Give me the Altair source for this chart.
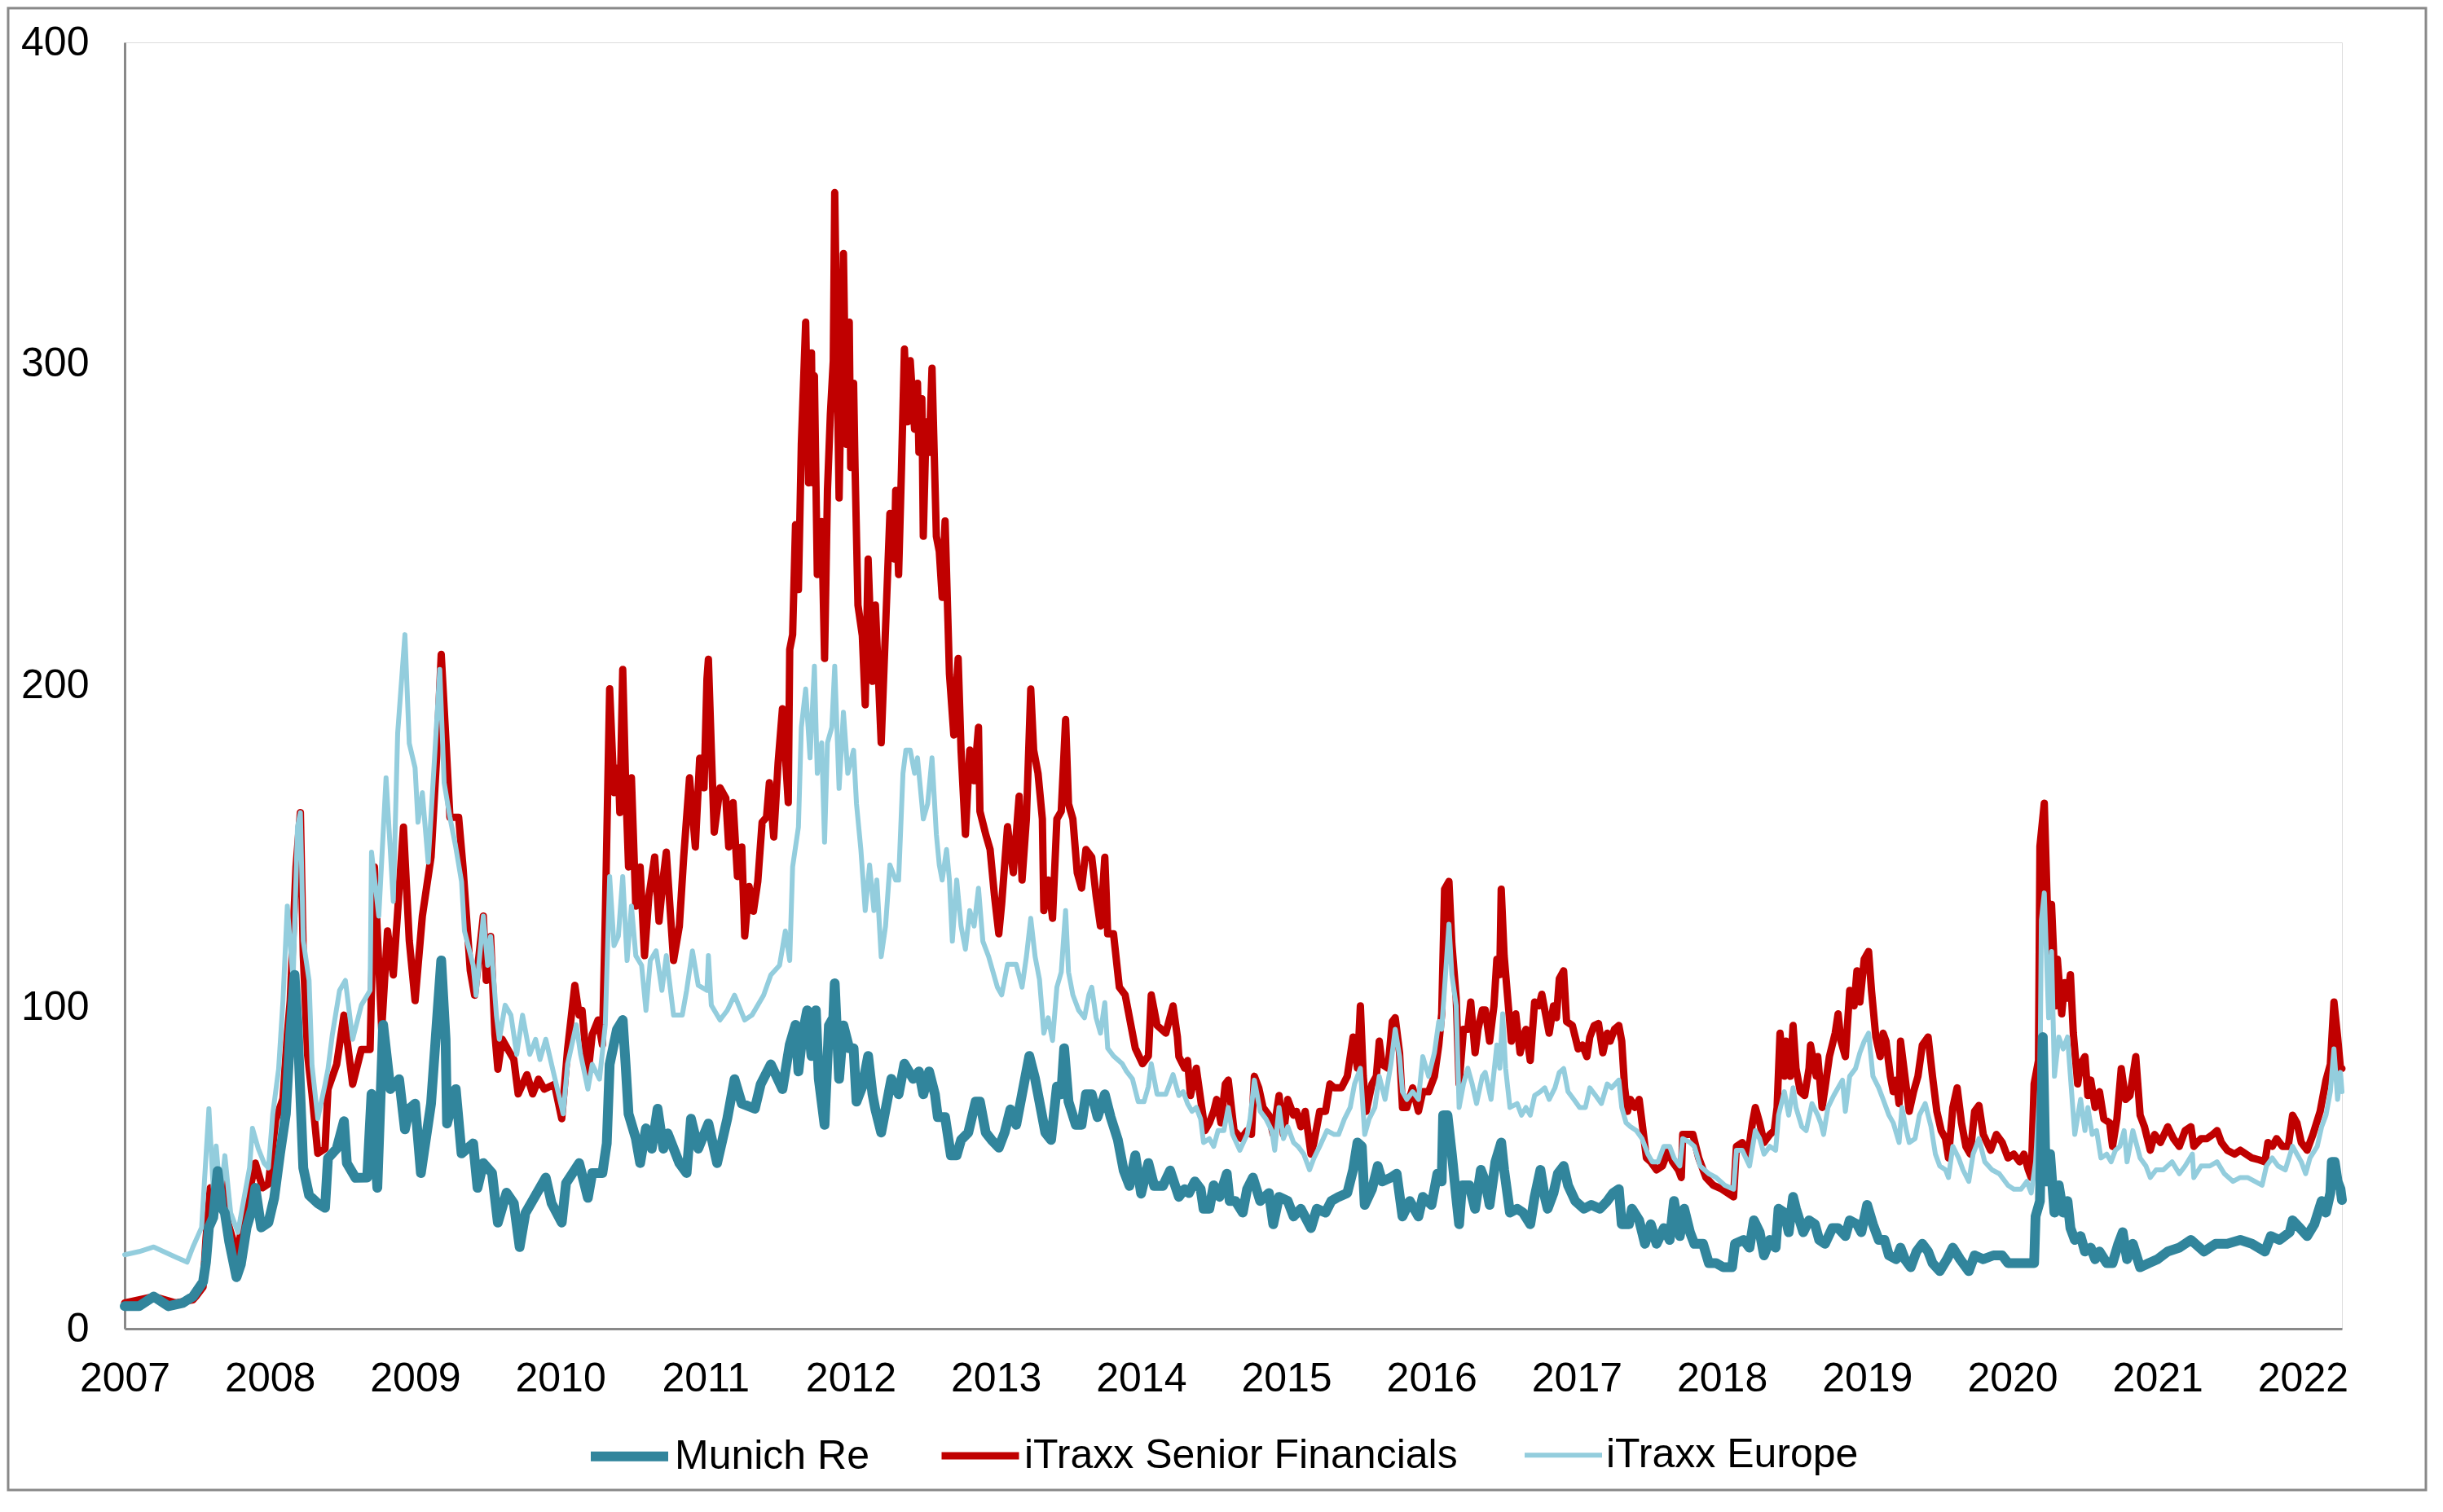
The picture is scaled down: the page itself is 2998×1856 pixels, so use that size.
import altair as alt
import pandas as pd

# ---------------- data ----------------
mr_t = [2007.00, 2007.10, 2007.20, 2007.30, 2007.40, 2007.47, 2007.54, 2007.56, 2007.58, 2007.61, 2007.64, 2007.67, 2007.69, 2007.72, 2007.77, 2007.80, 2007.84, 2007.88, 2007.90, 2007.94, 2007.99,
        2008.03, 2008.07, 2008.11, 2008.14, 2008.17, 2008.19, 2008.23, 2008.27, 2008.33, 2008.38, 2008.40, 2008.46, 2008.51, 2008.53, 2008.59, 2008.67, 2008.70, 2008.74, 2008.78, 2008.83, 2008.89, 2008.93, 2008.96,
        2009.00, 2009.04, 2009.11, 2009.18, 2009.21, 2009.22, 2009.28, 2009.32, 2009.40, 2009.43, 2009.47, 2009.53, 2009.57, 2009.63, 2009.68, 2009.72, 2009.76, 2009.83, 2009.90, 2009.94,
        2010.01, 2010.04, 2010.13, 2010.19, 2010.22, 2010.29, 2010.32, 2010.34, 2010.39, 2010.43, 2010.45, 2010.47, 2010.52, 2010.55, 2010.59, 2010.63, 2010.67, 2010.71, 2010.74, 2010.82, 2010.87, 2010.90, 2010.95,
        2011.02, 2011.08, 2011.15, 2011.20, 2011.25, 2011.34, 2011.38, 2011.45, 2011.53, 2011.58, 2011.62, 2011.64, 2011.67, 2011.70, 2011.73, 2011.76, 2011.78, 2011.82, 2011.85, 2011.88, 2011.89, 2011.92, 2011.95, 2011.99,
        2012.02, 2012.04, 2012.08, 2012.12, 2012.15, 2012.17, 2012.21, 2012.24, 2012.28, 2012.33, 2012.37, 2012.43, 2012.47, 2012.50, 2012.54, 2012.58, 2012.60, 2012.65, 2012.69, 2012.73, 2012.76, 2012.81, 2012.86, 2012.89, 2012.93, 2012.97,
        2013.02, 2013.06, 2013.10, 2013.14, 2013.18, 2013.23, 2013.27, 2013.31, 2013.34, 2013.38, 2013.42, 2013.45, 2013.47, 2013.50, 2013.55, 2013.59, 2013.62, 2013.66, 2013.70, 2013.75, 2013.79, 2013.84, 2013.88, 2013.92, 2013.96,
        2014.00, 2014.05, 2014.09, 2014.15, 2014.20, 2014.26, 2014.30, 2014.33, 2014.37, 2014.41, 2014.43, 2014.47, 2014.50, 2014.54, 2014.59, 2014.61, 2014.65, 2014.70, 2014.73, 2014.77, 2014.82, 2014.88, 2014.91, 2014.95,
        2015.01, 2015.05, 2015.10, 2015.17, 2015.21, 2015.27, 2015.31, 2015.36, 2015.42, 2015.46, 2015.49, 2015.52, 2015.54, 2015.59, 2015.63, 2015.66, 2015.72, 2015.76, 2015.80, 2015.85, 2015.91, 2015.94,
        2016.00, 2016.04, 2016.07, 2016.08, 2016.11, 2016.14, 2016.17, 2016.19, 2016.21, 2016.26, 2016.30, 2016.34, 2016.37, 2016.40, 2016.44, 2016.48, 2016.50, 2016.54, 2016.59, 2016.63, 2016.68, 2016.71, 2016.75, 2016.78, 2016.80, 2016.84, 2016.87, 2016.91, 2016.94, 2016.99,
        2017.05, 2017.10, 2017.16, 2017.21, 2017.25, 2017.29, 2017.31, 2017.36, 2017.38, 2017.43, 2017.47, 2017.51, 2017.55, 2017.60, 2017.64, 2017.67, 2017.71, 2017.74, 2017.78, 2017.81, 2017.87, 2017.91, 2017.96,
        2018.01, 2018.07, 2018.09, 2018.15, 2018.19, 2018.22, 2018.26, 2018.29, 2018.33, 2018.37, 2018.39, 2018.43, 2018.46, 2018.49, 2018.51, 2018.56, 2018.60, 2018.64, 2018.67, 2018.71, 2018.76, 2018.80, 2018.85, 2018.88, 2018.93, 2018.96,
        2019.00, 2019.04, 2019.08, 2019.12, 2019.15, 2019.20, 2019.23, 2019.26, 2019.30, 2019.34, 2019.38, 2019.42, 2019.45, 2019.50, 2019.55, 2019.59, 2019.64, 2019.70, 2019.74, 2019.80, 2019.87, 2019.93, 2019.97,
        2020.04, 2020.10, 2020.15, 2020.16, 2020.19, 2020.21, 2020.23, 2020.26, 2020.29, 2020.32, 2020.35, 2020.38, 2020.40, 2020.43, 2020.47, 2020.50, 2020.54, 2020.57, 2020.60, 2020.65, 2020.69, 2020.73, 2020.76, 2020.79, 2020.83, 2020.88, 2020.94,
        2021.00, 2021.07, 2021.15, 2021.23, 2021.32, 2021.40, 2021.48, 2021.57, 2021.65, 2021.74, 2021.78, 2021.84, 2021.91, 2021.93, 2021.98,
        2022.03, 2022.08, 2022.13, 2022.16, 2022.19, 2022.20, 2022.22, 2022.24, 2022.26, 2022.27]
mr_v = [7, 7, 10, 7, 8, 10, 14.6, 20.7, 31.5, 34.6, 49, 37.6, 36, 27, 16, 20, 31.5, 37.6, 43.8, 31.5, 33,
        40.7, 54.5, 66.8, 91.4, 110, 95, 50, 41.5, 39, 37.6, 53, 56, 64.5, 51.5, 46.9, 47, 73, 43.8, 94.5, 74.5, 77.6, 62, 68.4,
        70, 48.4, 70, 114.5, 90, 63.8, 74.5, 54.5, 57.6, 43.8, 51.5, 48.4, 33, 42.3, 39, 25.4, 36, 41.5, 47, 39,
        33, 45.3, 51.5, 40.7, 48.4, 48.4, 57.6, 82.2, 93, 96, 82, 66.8, 59.2, 51.5, 62.3, 56, 68.4, 56, 60.7, 51.5, 48.4, 65.3, 56,
        63.8, 51.5, 65.3, 77.6, 70, 68.4, 76, 82.2, 74.5, 88.3, 94.5, 80, 92, 99, 84.8, 99, 77.7, 63.4, 94.3, 96.7, 107.4, 77.7, 94.3, 87.2,
        87.2, 70.6, 75.3, 84.8, 72.9, 68.2, 61, 68.2, 77.7, 72.9, 82.4, 77.7, 80, 72.9, 80, 72.9, 65.8, 65.8, 53.9, 53.9, 58.7, 61, 70.6, 70.6, 61, 58.7,
        56.3, 61, 68.2, 63.4, 72.9, 84.8, 77.7, 68.2, 61, 58.7, 75.3, 72.9, 87.2, 70.6, 63.4, 63.4, 72.9, 72.9, 65.8, 72.9, 65.8, 58.7, 49.2, 44.4, 53.9,
        42, 51.5, 44.4, 44.4, 49.2, 41, 43.4, 42.2, 45.8, 43.4, 37.3, 37.3, 44.6, 41, 48.2, 39.7, 39.7, 36.1, 43.4, 47, 39.7, 42.2, 32.5, 41,
        39.7, 34.9, 37.3, 31.3, 37.3, 36.1, 39.7, 41, 42.2, 49.4, 57.9, 56.7, 38.5, 43.4, 50.6, 45.8, 47, 48.2, 34.9, 39.7, 34.9, 41,
        38.5, 48.2, 45.8, 66.4, 66.4, 54.3, 41, 32.5, 44.6, 44.6, 37.3, 49.4, 45.8, 38.5, 51.9, 57.9, 49.4, 36.1, 37.3, 36.1, 32.5, 41, 49.4, 41, 37.3, 42.2, 48.2, 50.6, 44.6, 39.7,
        37.3, 38.5, 37.3, 39.7, 42.2, 43.4, 32.5, 32.5, 37.3, 33.7, 26.4, 32.5, 26.4, 31.3, 27.6, 39.7, 28.8, 37.3, 30, 26.4, 26.4, 20.4, 20.4,
        19.1, 19.1, 26.4, 27.6, 25.2, 33.7, 30, 22.8, 27.6, 25.2, 37.3, 36.1, 30, 41, 37.3, 30, 33.7, 32.5, 27.6, 26.4, 31.3, 31.3, 28.8, 33.7, 32.5, 30,
        38.5, 32.5, 27.6, 27.6, 22.8, 21.6, 25.2, 21.6, 19.1, 24, 26.4, 24, 20.4, 17.9, 21.6, 25.2, 21.6, 17.9, 22.8, 21.6, 22.8, 22.8, 20.4,
        20.4, 20.4, 20.4, 34.9, 39.7, 90.7, 45.8, 54.3, 36.1, 44.6, 36.1, 39.7, 31.3, 27.6, 28.8, 24, 25.2, 21.6, 24, 20.4, 20.4, 26.4, 30, 21.6, 26.4, 19.1, 20.4,
        21.6, 24, 25.2, 27.6, 24, 26.4, 26.4, 27.6, 26.4, 24, 28.8, 27.6, 30, 33.7, 31.3,
        28.8, 32.5, 39.7, 36.1, 42.2, 51.9, 51.9, 45.8, 43.4, 40]

sf_t = [2007.00, 2007.20, 2007.35, 2007.47, 2007.49, 2007.54, 2007.56, 2007.59, 2007.63, 2007.66, 2007.68, 2007.71, 2007.75, 2007.78, 2007.81, 2007.85, 2007.90, 2007.95, 2007.99,
        2008.04, 2008.09, 2008.12, 2008.14, 2008.18, 2008.21, 2008.23, 2008.26, 2008.29, 2008.33, 2008.38, 2008.40, 2008.46, 2008.51, 2008.57, 2008.63, 2008.69, 2008.72, 2008.77, 2008.81, 2008.85, 2008.92, 2008.96,
        2009.00, 2009.05, 2009.11, 2009.15, 2009.18, 2009.21, 2009.24, 2009.30, 2009.33, 2009.38, 2009.41, 2009.47, 2009.49, 2009.52, 2009.55, 2009.57, 2009.60, 2009.64, 2009.68, 2009.71, 2009.77, 2009.81, 2009.85, 2009.89, 2009.96,
        2010.01, 2010.05, 2010.10, 2010.13, 2010.15, 2010.19, 2010.22, 2010.26, 2010.29, 2010.31, 2010.34, 2010.37, 2010.40, 2010.41, 2010.43, 2010.45, 2010.47, 2010.49, 2010.52, 2010.55, 2010.58, 2010.61, 2010.65, 2010.68, 2010.71, 2010.73, 2010.78, 2010.82, 2010.85, 2010.89, 2010.93, 2010.96, 2010.99,
        2011.01, 2011.02, 2011.04, 2011.06, 2011.10, 2011.14, 2011.16, 2011.19, 2011.22, 2011.25, 2011.27, 2011.30, 2011.33, 2011.36, 2011.39, 2011.42, 2011.44, 2011.47, 2011.50, 2011.53, 2011.57, 2011.58, 2011.60, 2011.62,
        2011.64, 2011.66, 2011.69, 2011.71, 2011.73, 2011.74, 2011.75, 2011.77, 2011.80, 2011.82, 2011.84, 2011.86, 2011.88, 2011.89, 2011.92, 2011.95, 2011.97, 2011.99,
        2012.00, 2012.02, 2012.03, 2012.05, 2012.08, 2012.10, 2012.12, 2012.15, 2012.17, 2012.21, 2012.24, 2012.27, 2012.30, 2012.31, 2012.33, 2012.35, 2012.37, 2012.39, 2012.41, 2012.44, 2012.46, 2012.47, 2012.49, 2012.50, 2012.52, 2012.54, 2012.56, 2012.59, 2012.61, 2012.63, 2012.65, 2012.68, 2012.71, 2012.74, 2012.76, 2012.79, 2012.82, 2012.85, 2012.88, 2012.89, 2012.93, 2012.96, 2012.99,
        2013.02, 2013.04, 2013.08, 2013.12, 2013.16, 2013.18, 2013.21, 2013.24, 2013.26, 2013.29, 2013.32, 2013.33, 2013.36, 2013.39, 2013.42, 2013.45, 2013.48, 2013.50, 2013.53, 2013.56, 2013.59, 2013.62, 2013.66, 2013.69, 2013.72, 2013.75, 2013.77, 2013.81, 2013.85, 2013.89, 2013.92, 2013.96,
        2014.01, 2014.05, 2014.07, 2014.11, 2014.17, 2014.22, 2014.25, 2014.26, 2014.30, 2014.32, 2014.34, 2014.38, 2014.41, 2014.44, 2014.47, 2014.50, 2014.52, 2014.55, 2014.58, 2014.60, 2014.64, 2014.69, 2014.73, 2014.76, 2014.78, 2014.81, 2014.84, 2014.88, 2014.91, 2014.95, 2014.98,
        2015.01, 2015.05, 2015.07, 2015.10, 2015.13, 2015.17, 2015.19, 2015.23, 2015.27, 2015.30, 2015.33, 2015.38, 2015.42, 2015.46, 2015.49, 2015.51, 2015.53, 2015.55, 2015.59, 2015.62, 2015.64, 2015.66, 2015.70, 2015.73, 2015.75, 2015.78, 2015.80, 2015.83, 2015.87, 2015.91, 2015.94, 2015.98,
        2016.02, 2016.05, 2016.07, 2016.09, 2016.12, 2016.14, 2016.17, 2016.19, 2016.22, 2016.25, 2016.27, 2016.30, 2016.32, 2016.35, 2016.37, 2016.40, 2016.43, 2016.45, 2016.47, 2016.48, 2016.50, 2016.52, 2016.55, 2016.58, 2016.61, 2016.64, 2016.65, 2016.68, 2016.71, 2016.74, 2016.76, 2016.78, 2016.81, 2016.84, 2016.86, 2016.88, 2016.91, 2016.93, 2016.97,
        2017.01, 2017.04, 2017.07, 2017.09, 2017.12, 2017.15, 2017.18, 2017.21, 2017.23, 2017.26, 2017.29, 2017.31, 2017.33, 2017.35, 2017.37, 2017.40, 2017.43, 2017.46, 2017.48, 2017.51, 2017.55, 2017.59, 2017.63, 2017.66, 2017.70, 2017.72, 2017.73, 2017.78, 2017.80, 2017.84, 2017.89, 2017.94,
        2018.00, 2018.04, 2018.08, 2018.10, 2018.14, 2018.18, 2018.21, 2018.23, 2018.26, 2018.29, 2018.33, 2018.36, 2018.38, 2018.40, 2018.43, 2018.44, 2018.47, 2018.49, 2018.51, 2018.54, 2018.57, 2018.60, 2018.61, 2018.65, 2018.66, 2018.69, 2018.71, 2018.74, 2018.78, 2018.80, 2018.82, 2018.85, 2018.88, 2018.91, 2018.93, 2018.95, 2018.98,
        2019.01, 2019.03, 2019.06, 2019.09, 2019.11, 2019.13, 2019.16, 2019.18, 2019.20, 2019.22, 2019.23, 2019.26, 2019.29, 2019.32, 2019.35, 2019.38, 2019.42, 2019.45, 2019.48, 2019.51, 2019.54, 2019.56, 2019.59, 2019.62, 2019.65, 2019.68, 2019.71, 2019.74, 2019.77, 2019.80, 2019.85, 2019.89, 2019.93, 2019.97,
        2020.01, 2020.05, 2020.08, 2020.11, 2020.13, 2020.15, 2020.18, 2020.19, 2020.22, 2020.24, 2020.26, 2020.27, 2020.30, 2020.31, 2020.34, 2020.36, 2020.38, 2020.40, 2020.42, 2020.45, 2020.47, 2020.50, 2020.52, 2020.54, 2020.57, 2020.60, 2020.63, 2020.67, 2020.69, 2020.72, 2020.75, 2020.78, 2020.81, 2020.85, 2020.88, 2020.91, 2020.95, 2020.98,
        2021.02, 2021.07, 2021.11, 2021.15, 2021.19, 2021.23, 2021.25, 2021.30, 2021.34, 2021.38, 2021.41, 2021.44, 2021.48, 2021.53, 2021.57, 2021.61, 2021.65, 2021.70, 2021.74, 2021.76, 2021.79, 2021.82, 2021.86, 2021.90, 2021.93, 2021.96, 2021.99,
        2022.03, 2022.07, 2022.12, 2022.16, 2022.19, 2022.215, 2022.24, 2022.26, 2022.27]
sf_v = [8, 10, 8, 9, 10, 13, 28, 43.8, 39, 45, 45, 33, 27, 22.3, 34.6, 40.7, 51.5, 43.8, 45,
        65, 71.5, 91.4, 102, 143.6, 160.5, 116, 85, 73, 54.5, 56, 74.5, 82.2, 97.5, 76, 86.8, 86.8, 143.6, 93, 123.7, 110, 156, 120.6,
        102, 128.3, 146.7, 179, 209.7, 185, 159, 159, 143.6, 111.4, 103.7, 128.3, 108.3, 122, 91.4, 80.7, 90, 86.8, 83.7, 73, 79, 73, 77.6, 74.5, 76,
        65.3, 86.8, 106.8, 97.5, 99, 79, 91.4, 96, 88.3, 128.3, 199, 166.7, 174.4, 160.5, 205, 169.8, 143.6, 171.3, 131.4, 143.6, 116, 134.4, 146.7, 126.7, 140.6, 148.2, 114.5, 125.2, 146.7, 171.3, 149.8, 177.4, 168.2,
        202, 208.2, 180.5, 154.4, 168.2, 165, 149.8, 163.6, 140.6, 149.8, 122.1, 137.5, 129.8, 139, 157.5, 159, 169.8, 152.9, 175.9, 192.8, 163.6, 211.2, 215.8, 250,
        229.8, 275, 313, 263, 303.4, 263, 296.3, 234.5, 251, 208.4, 260.7, 284.4, 301, 353.3, 258.3, 334.3, 275, 313,
        267.8, 294, 267.8, 225, 215.5, 194, 239.3, 201.3, 225, 182.2, 217.9, 253.5, 239.3, 260.7, 234.5, 267.8, 304.6, 282, 301, 279.7, 294, 272.5, 289.2, 246.4, 282, 272.5, 298.7, 246.4, 241.7, 227.4, 251.2, 203.6, 184.6, 208.4, 179.9, 153.7, 179.9, 170.4, 187, 160.9, 153.7, 149, 134.7,
        122.8, 132.3, 156.1, 141.8, 165.6, 139.5, 158.5, 198.9, 179.9, 172.7, 158.5, 130, 139.5, 127.6, 158.5, 160.9, 189.4, 163.2, 158.5, 141.8, 137, 149, 146.6, 134.7, 125.2, 146.6, 122.8, 122.8, 106.2, 103.8, 96.7, 87.2,
        82.4, 84.8, 103.8, 94.3, 91.9, 100.4, 90.7, 84.6, 81, 83.4, 72.5, 81, 71.3, 61.6, 64, 67.6, 71.3, 64, 76.1, 77.3, 61.6, 59.1, 61.6, 60.4, 78.5, 74.9, 68.8, 66.4, 60.4, 72.5, 60.4,
        71.3, 66.4, 67.6, 62.8, 67.6, 54.3, 57.9, 67.6, 67.6, 76.1, 74.9, 74.9, 78.5, 90.7, 81, 100.4, 78.5, 67.6, 76.1, 78.5, 89.4, 82.2, 81, 95.5, 96.7, 85.8, 68.8, 68.8, 74.9, 67.6, 73.7, 73.7,
        78.5, 88.2, 97.9, 136.7, 139.1, 119.7, 102.8, 76.1, 93.1, 93.1, 101.6, 85.8, 93.1, 99.1, 99.1, 89.4, 100.4, 114.9, 110.1, 136.7, 116.1, 105.2, 89.4, 97.9, 85.8, 91.9, 93.1, 83.4, 101.6, 100.4, 104, 99.1, 91.9, 100.4, 96.7, 108.8, 111.3, 95.5, 94.3,
        87, 88.2, 84.6, 90.7, 94.3, 94.9, 85.8, 91.9, 89.4, 93.1, 94.3, 89.4, 74.9, 67.6, 71.3, 68.8, 71.3, 60.4, 53.1, 51.9, 49.4, 50.6, 55.5, 51.9, 49.4, 47, 60.4, 60.4, 60.4, 53.1, 47, 44.6,
        43.4, 42.2, 41, 56.7, 57.9, 54.3, 64, 68.8, 64, 57.9, 60.4, 61.6, 68.8, 91.9, 78.5, 89.4, 78.5, 94.3, 81, 73.7, 72.5, 81, 88.2, 78.5, 84.6, 68.8, 74.9, 84.6, 91.9, 97.9, 89.4, 84.6, 105.2, 100.4, 111.3, 101.6, 114.9,
        117.3, 105.2, 90.7, 84.6, 91.9, 89.4, 78.5, 73.7, 77.3, 70, 89.4, 78.5, 67.6, 73.7, 78.5, 88.2, 90.7, 78.5, 67.6, 61.6, 59.1, 53.1, 68.8, 74.9, 64, 56.7, 54.3, 67.6, 69.4, 60.4, 55.5, 60.4, 57.9, 53.1,
        54.3, 51.9, 54.3, 49.4, 47, 76.1, 83.4, 150, 163.4, 133.1, 117.3, 131.9, 100.4, 114.9, 97.9, 107.6, 102.8, 110.1, 91.9, 76.1, 82.2, 84.6, 72.5, 77.3, 68.8, 73.7, 65.2, 64, 56.7, 65.2, 80.9, 71.3, 72.5, 84.6, 66.4, 62.8, 55.5, 60.4,
        57.9, 62.8, 59.1, 56.7, 61.6, 62.8, 56.7, 59.1, 59.1, 60.4, 61.6, 57.9, 55.5, 54.3, 55.5, 54.3, 53.1, 52.5, 51.9, 57.9, 56.7, 59.1, 56.7, 56.7, 66.4, 64, 57.9,
        55.5, 60.4, 67.6, 77.3, 82.2, 101.6, 90.7, 80.9, 80.9]

eu_t = [2007.00, 2007.10, 2007.20, 2007.35, 2007.43, 2007.47, 2007.53, 2007.58, 2007.61, 2007.63, 2007.66, 2007.69, 2007.73, 2007.78, 2007.81, 2007.86, 2007.88, 2007.92, 2007.96, 2007.99,
        2008.02, 2008.06, 2008.09, 2008.12, 2008.16, 2008.19, 2008.21, 2008.23, 2008.27, 2008.29, 2008.33, 2008.38, 2008.40, 2008.43, 2008.48, 2008.52, 2008.57, 2008.63, 2008.69, 2008.70, 2008.75, 2008.80, 2008.85, 2008.88, 2008.93, 2008.96,
        2009.00, 2009.02, 2009.05, 2009.09, 2009.13, 2009.17, 2009.20, 2009.24, 2009.28, 2009.32, 2009.34, 2009.40, 2009.42, 2009.47, 2009.50, 2009.52, 2009.56, 2009.58, 2009.62, 2009.66, 2009.70, 2009.74, 2009.79, 2009.83, 2009.86, 2009.90, 2009.94, 2009.98,
        2010.02, 2010.05, 2010.11, 2010.14, 2010.19, 2010.22, 2010.27, 2010.31, 2010.34, 2010.37, 2010.40, 2010.43, 2010.46, 2010.49, 2010.52, 2010.56, 2010.59, 2010.62, 2010.66, 2010.70, 2010.73, 2010.78, 2010.84, 2010.87, 2010.91, 2010.95,
        2011.01, 2011.02, 2011.04, 2011.10, 2011.15, 2011.20, 2011.27, 2011.32, 2011.40, 2011.45, 2011.51, 2011.55, 2011.58, 2011.60, 2011.64, 2011.66, 2011.69, 2011.72, 2011.75, 2011.77, 2011.80, 2011.82, 2011.84, 2011.87, 2011.89, 2011.92, 2011.95, 2011.98,
        2012.02, 2012.04, 2012.07, 2012.10, 2012.13, 2012.16, 2012.18, 2012.21, 2012.24, 2012.27, 2012.31, 2012.33, 2012.36, 2012.38, 2012.41, 2012.44, 2012.46, 2012.50, 2012.53, 2012.56, 2012.59, 2012.61, 2012.63, 2012.66, 2012.68, 2012.70, 2012.73, 2012.76, 2012.79, 2012.82, 2012.85, 2012.88, 2012.91, 2012.95,
        2013.01, 2013.04, 2013.08, 2013.14, 2013.18, 2013.21, 2013.24, 2013.27, 2013.30, 2013.33, 2013.36, 2013.39, 2013.42, 2013.45, 2013.48, 2013.50, 2013.53, 2013.57, 2013.61, 2013.64, 2013.66, 2013.69, 2013.72, 2013.75, 2013.77, 2013.81, 2013.87, 2013.90, 2013.94, 2013.98,
        2014.02, 2014.05, 2014.07, 2014.11, 2014.17, 2014.22, 2014.26, 2014.29, 2014.32, 2014.35, 2014.38, 2014.41, 2014.43, 2014.47, 2014.50, 2014.53, 2014.57, 2014.60, 2014.63, 2014.68, 2014.73, 2014.75, 2014.78, 2014.82, 2014.86, 2014.90, 2014.92, 2014.95, 2014.98,
        2015.01, 2015.05, 2015.08, 2015.12, 2015.16, 2015.19, 2015.23, 2015.28, 2015.33, 2015.36, 2015.40, 2015.44, 2015.47, 2015.51, 2015.54, 2015.57, 2015.61, 2015.64, 2015.68, 2015.72, 2015.75, 2015.78, 2015.80, 2015.83, 2015.87, 2015.91, 2015.94, 2015.98,
        2016.02, 2016.05, 2016.07, 2016.10, 2016.12, 2016.14, 2016.17, 2016.19, 2016.22, 2016.25, 2016.28, 2016.31, 2016.35, 2016.37, 2016.41, 2016.45, 2016.47, 2016.49, 2016.51, 2016.54, 2016.59, 2016.62, 2016.65, 2016.68, 2016.71, 2016.75, 2016.78, 2016.81, 2016.85, 2016.88, 2016.91, 2016.94, 2016.98,
        2017.02, 2017.06, 2017.09, 2017.13, 2017.17, 2017.21, 2017.24, 2017.29, 2017.31, 2017.34, 2017.37, 2017.41, 2017.45, 2017.49, 2017.52, 2017.56, 2017.60, 2017.64, 2017.67, 2017.71, 2017.73, 2017.78, 2017.81, 2017.85, 2017.91, 2017.96,
        2018.02, 2018.08, 2018.10, 2018.14, 2018.19, 2018.23, 2018.26, 2018.29, 2018.33, 2018.37, 2018.39, 2018.43, 2018.46, 2018.49, 2018.51, 2018.55, 2018.58, 2018.62, 2018.66, 2018.68, 2018.70, 2018.73, 2018.77, 2018.80, 2018.83, 2018.85, 2018.88, 2018.92, 2018.95, 2018.98,
        2019.01, 2019.04, 2019.08, 2019.11, 2019.15, 2019.18, 2019.22, 2019.24, 2019.27, 2019.29, 2019.33, 2019.36, 2019.40, 2019.44, 2019.47, 2019.50, 2019.54, 2019.56, 2019.59, 2019.63, 2019.66, 2019.70, 2019.73, 2019.77, 2019.81, 2019.86, 2019.91, 2019.97,
        2020.01, 2020.06, 2020.10, 2020.13, 2020.16, 2020.19, 2020.20, 2020.22, 2020.25, 2020.27, 2020.29, 2020.32, 2020.35, 2020.38, 2020.40, 2020.43, 2020.47, 2020.50, 2020.52, 2020.55, 2020.58, 2020.61, 2020.65, 2020.68, 2020.71, 2020.74, 2020.77, 2020.79, 2020.83, 2020.88, 2020.92, 2020.95, 2020.99,
        2021.04, 2021.10, 2021.15, 2021.19, 2021.24, 2021.25, 2021.30, 2021.36, 2021.41, 2021.46, 2021.52, 2021.57, 2021.62, 2021.67, 2021.72, 2021.75, 2021.79, 2021.83, 2021.88, 2021.93, 2021.96, 2021.99,
        2022.02, 2022.05, 2022.10, 2022.13, 2022.16, 2022.19, 2022.215, 2022.24, 2022.26, 2022.27]
eu_v = [23, 24, 25.4, 22.3, 20.7, 25.4, 31.5, 68.4, 43.8, 56.8, 40.7, 53.8, 36, 30, 37.6, 50, 62.3, 56, 51.5, 50,
        66.8, 80.7, 102, 131.4, 108.3, 156, 160.5, 120.6, 108.3, 82, 65.3, 76, 80.7, 91.4, 105.2, 108.3, 90, 100.6, 105.2, 148.2, 128.3, 171.3, 132.9, 185.1, 215.8, 182,
        174.4, 157.5, 166.7, 145, 174.4, 205, 169.8, 159, 149.8, 139, 123.7, 113, 103.7, 128.3, 113, 122, 97.5, 90, 100.6, 97.5, 85.3, 97.5, 85.3, 90, 83.7, 90, 82.2, 74.5,
        66.8, 82.2, 94.5, 85.3, 74.5, 82.2, 77.6, 94.5, 140.6, 119.1, 122.1, 140.6, 114.5, 131.4, 116, 113, 99, 114.5, 117.5, 105.2, 116, 97.5, 97.5, 105.2, 117.5, 106.8,
        105.2, 116, 100.6, 96, 99, 103.7, 96, 97.5, 103.7, 110, 113, 123.7, 114.5, 143.6, 156, 187, 198.9, 177.5, 206, 172.7, 182.2, 151.3, 182.2, 187, 206, 168, 191.7, 172.7,
        179.9, 163.2, 149, 130, 144.2, 130, 139.5, 115.7, 125.2, 144.2, 139.5, 139.5, 172.7, 179.9, 179.9, 172.7, 177.5, 158.5, 163.2, 177.5, 153.7, 144.2, 139.5, 149, 139.5, 120.5, 139.5, 125.2, 118, 130, 125.2, 137, 120.5, 115.7,
        106.2, 103.8, 113.3, 113.3, 106.2, 115.7, 127.6, 115.7, 108.6, 91.9, 96.7, 89.6, 106.2, 110.9, 130, 110.9, 103.8, 99, 96.7, 103.8, 106.2, 96.7, 91.9, 101.4, 87.2, 84.8, 82.4, 80, 77.7, 70.6,
        70.6, 75.3, 82.4, 72.9, 72.9, 79, 72.5, 73.7, 70, 67.6, 68.8, 65.2, 57.9, 59.1, 56.7, 61.6, 61.6, 68.8, 60.4, 55.5, 60.4, 65.2, 77.3, 67.6, 65.2, 61.6, 55.5, 68.8, 59.1,
        62.8, 57.9, 56.7, 54.3, 49.4, 53, 56.7, 61.6, 60.4, 60.4, 65.2, 68.8, 76.1, 81, 60.4, 65.2, 68.8, 78.5, 71.3, 82.2, 93.1, 84.6, 73.7, 71.3, 73.7, 71.3, 84.6, 78.5,
        85.8, 95.5, 93.1, 112.5, 125.8, 110.1, 100.4, 68.8, 76.1, 81, 76.1, 70, 78.5, 79.7, 71.3, 88.2, 81, 97.9, 81, 68.8, 70, 66.4, 68.8, 66.4, 72.5, 73.7, 74.9, 71.3, 74.9, 79.7, 80.9, 73.7, 71.3,
        68.8, 68.8, 74.9, 72.5, 70, 76.1, 74.9, 77.3, 68.8, 64, 62.8, 61.6, 59.1, 54.3, 51.9, 51.9, 56.7, 56.7, 53.1, 50.6, 59.1, 57.9, 56.7, 50.6, 48.2, 47,
        44.6, 43.4, 55.5, 55.5, 50.6, 61.6, 59.1, 54.3, 56.7, 55.5, 66.4, 73.7, 66.4, 74.9, 68.8, 62.8, 61.6, 70, 66.4, 64, 60.4, 68.8, 72.5, 74.9, 77.3, 67.6, 78.5, 80.9, 85.8, 89.4,
        91.9, 78.5, 74.9, 71.3, 66.4, 64, 57.9, 68.8, 61.6, 57.9, 59.1, 66.4, 70, 62.8, 54.3, 50.6, 49.4, 47, 56.7, 53.1, 49.4, 45.8, 54.3, 59.1, 51.9, 49.4, 48.2, 44.6,
        43.4, 43.4, 45.8, 42.2, 51.9, 76.1, 127, 135.5, 96.7, 117.3, 78.5, 90.7, 87, 90.7, 78.5, 60.4, 71.3, 61.6, 68.8, 60.4, 61.6, 53.1, 54.3, 51.9, 55.5, 56.7, 61.6, 51.9, 61.6, 53.1, 50.6, 47, 49.4,
        49.4, 51.9, 48.2, 50.6, 54.3, 47, 50.6, 50.6, 51.9, 48.2, 45.8, 47, 47, 45.8, 44.6, 50.6, 53.1, 50.6, 49.4, 56.7, 54.3, 51.9,
        48.2, 53.1, 56.7, 62.8, 66.4, 73.7, 87, 71.3, 79.7, 73.7]

series_names = ["Munich Re", "iTraxx Senior Financials", "iTraxx Europe"]
series_colors = ["#31859C", "#C00000", "#93CDDD"]
series_widths = [12, 6, 6]
year_ticks = list(range(2007, 2023))
value_ticks = [0, 100, 200, 300, 400]

# ---------------- table ----------------
frames = []
for name, ts, vs in [(series_names[0], mr_t, mr_v), (series_names[1], sf_t, sf_v), (series_names[2], eu_t, eu_v)]:
    frames.append(pd.DataFrame({"t": ts, "v": vs, "series": name}))
df = pd.concat(frames, ignore_index=True)

FONT = "Liberation Sans"
AXIS_GRAY = "#898989"
W, H = 2721, 1579
PAD_L, PAD_T, PAD_R, PAD_B = 145, 44, 105, 200

x_enc = alt.X("t:Q",
              scale=alt.Scale(domain=[2007, 2022.27], nice=False, zero=False),
              axis=alt.Axis(values=year_ticks, format="d", title=None, labelFlush=False,
                            ticks=False, grid=False, labelPadding=36, domainColor=AXIS_GRAY,
                            domainWidth=3, labelFontSize=50, labelFont=FONT, labelColor="#000000"))
y_enc = alt.Y("v:Q",
              scale=alt.Scale(domain=[0, 400], nice=False),
              axis=alt.Axis(values=value_ticks, title=None, ticks=False, grid=False, labelPadding=44,
                            domainColor=AXIS_GRAY, domainWidth=3, labelFontSize=50, labelFont=FONT,
                            labelColor="#000000"))
legend = alt.Legend(title=None, orient="none", legendX=566, legendY=1682, direction="horizontal",
                    symbolType="stroke", symbolSize=9025, labelFontSize=50, labelFont=FONT,
                    labelColor="#000000", labelLimit=0, columnPadding=70, labelOffset=2, padding=0)
color_enc = alt.Color("series:N", scale=alt.Scale(domain=series_names, range=series_colors), legend=legend)
width_enc = alt.StrokeWidth("series:N", scale=alt.Scale(domain=series_names, range=series_widths), legend=legend)

base = alt.Chart(df).mark_line(strokeJoin="round", strokeCap="round").encode(
    x=x_enc, y=y_enc, color=color_enc, strokeWidth=width_enc)

layers = [base.transform_filter(alt.datum.series == n) for n in [series_names[1], series_names[2], series_names[0]]]

frame = alt.Chart(pd.DataFrame({"a": [0]})).mark_rect(fillOpacity=0, stroke=AXIS_GRAY, strokeWidth=3).encode(
    x=alt.value(-PAD_L + 2), x2=alt.value(W + PAD_R - 2),
    y=alt.value(-PAD_T + 2), y2=alt.value(H + PAD_B - 2))

chart = alt.layer(frame, *layers).properties(
    width=W, height=H,
    autosize=alt.AutoSizeParams(type="none"),
    padding={"left": PAD_L, "top": PAD_T, "right": PAD_R, "bottom": PAD_B},
).configure_view(stroke=None).configure(background="#ffffff")

chart.save("out.html", embed_options={"renderer": "svg", "actions": False})
